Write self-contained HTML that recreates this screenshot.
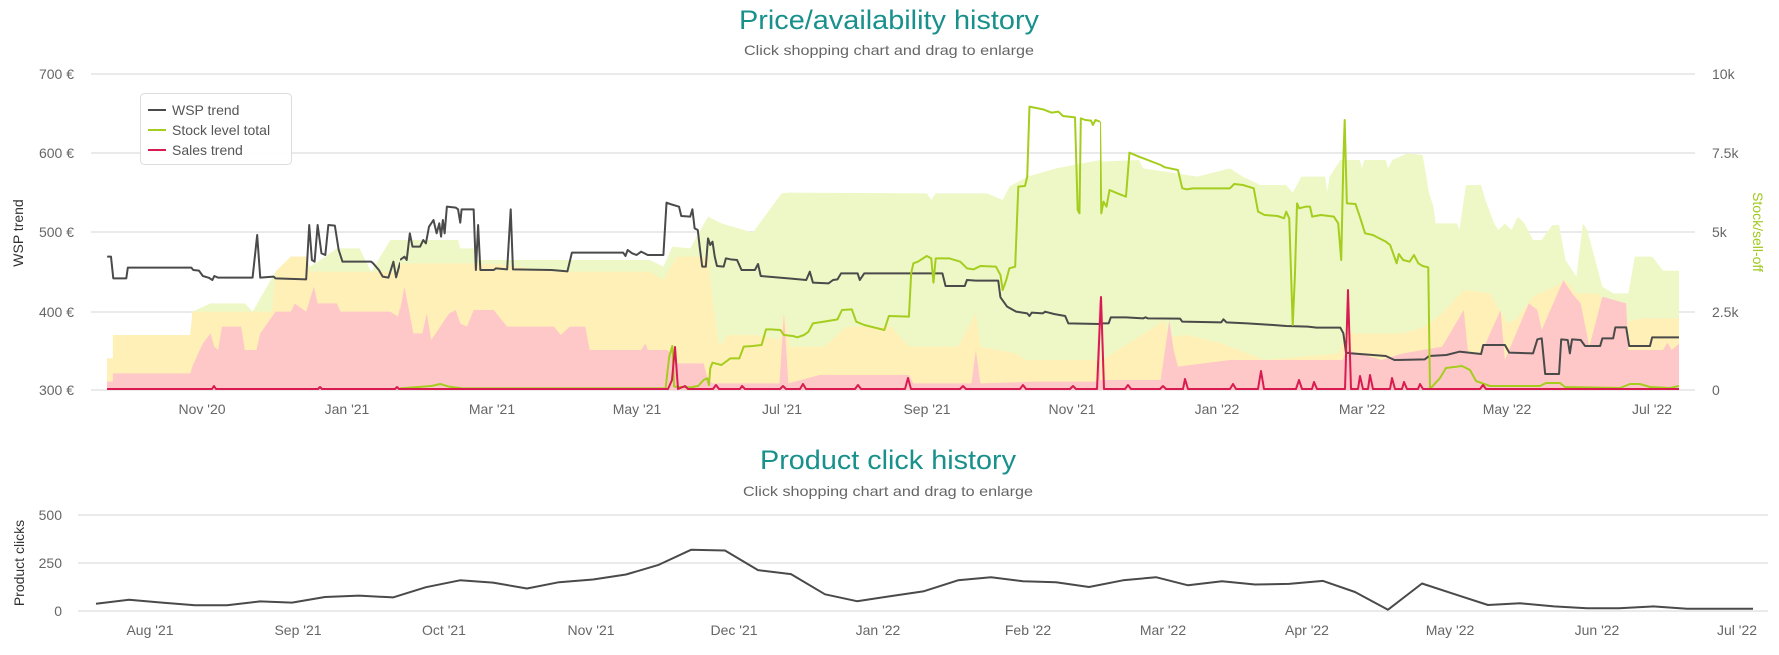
<!DOCTYPE html>
<html><head><meta charset="utf-8"><style>
html,body{margin:0;padding:0;background:#fff;}
svg{display:block;font-family:"Liberation Sans",sans-serif;}
</style></head><body>
<svg width="1779" height="655" viewBox="0 0 1779 655" xmlns="http://www.w3.org/2000/svg">
<defs>
<clipPath id="cA"><rect x="107" y="60" width="293" height="331"/></clipPath>
<clipPath id="cB"><rect x="400" y="60" width="700" height="331"/></clipPath>
<clipPath id="cC"><rect x="1100" y="60" width="579" height="331"/></clipPath>
<clipPath id="cD"><rect x="1430" y="60" width="249" height="331"/></clipPath>
</defs>
<rect width="1779" height="655" fill="#fff"/>
<text x="889" y="29" text-anchor="middle" font-size="27" fill="#18908c" textLength="300" lengthAdjust="spacingAndGlyphs">Price/availability history</text>
<text x="889" y="55" text-anchor="middle" font-size="14" fill="#666" textLength="290" lengthAdjust="spacingAndGlyphs">Click shopping chart and drag to enlarge</text>
<text x="888" y="469" text-anchor="middle" font-size="27" fill="#18908c" textLength="256" lengthAdjust="spacingAndGlyphs">Product click history</text>
<text x="888" y="496" text-anchor="middle" font-size="14" fill="#666" textLength="290" lengthAdjust="spacingAndGlyphs">Click shopping chart and drag to enlarge</text>

<g stroke="#e3e3e3" stroke-width="1.5">
<line x1="91" y1="74" x2="1695" y2="74"/><line x1="91" y1="153" x2="1695" y2="153"/>
<line x1="91" y1="232" x2="1695" y2="232"/><line x1="91" y1="312" x2="1695" y2="312"/>
<line x1="91" y1="390" x2="1695" y2="390"/>
</g>
<g font-size="14" fill="#666" text-anchor="end">
<text x="74" y="79">700 €</text><text x="74" y="158">600 €</text><text x="74" y="237">500 €</text><text x="74" y="317">400 €</text><text x="74" y="395">300 €</text>
</g>
<g font-size="14" fill="#666">
<text x="1712" y="79">10k</text><text x="1712" y="158">7.5k</text><text x="1712" y="237">5k</text><text x="1712" y="317">2.5k</text><text x="1712" y="395">0</text>
</g>
<text transform="translate(23,233) rotate(-90)" text-anchor="middle" font-size="14" fill="#333">WSP trend</text>
<text transform="translate(1753,232) rotate(90)" text-anchor="middle" font-size="14" fill="#a0c81e">Stock/sell-off</text>
<g font-size="14" fill="#666" text-anchor="middle">
<text x="202" y="414">Nov '20</text><text x="347" y="414">Jan '21</text><text x="492" y="414">Mar '21</text><text x="637" y="414">May '21</text><text x="782" y="414">Jul '21</text><text x="927" y="414">Sep '21</text><text x="1072" y="414">Nov '21</text><text x="1217" y="414">Jan '22</text><text x="1362" y="414">Mar '22</text><text x="1507" y="414">May '22</text><text x="1652" y="414">Jul '22</text>
</g>

<g clip-path="url(#cA)"><g transform="scale(0.3827,0.33333)">
<path fill="#eef8c6" d="M279,1170 L279,1075 L295,1075 L295,1005 L497,1005 L503,935 L550,910 L640,910 L660,935 L720,815 L760,770 L800,770 L810,800 L850,770 L880,745 L940,745 L950,770 L970,815 L1020,720 L1060,720 L1075,800 L1100,770 L1120,740 L1150,720 L1200,720 L1200,1170 Z"/>
<path fill="#fff0b8" d="M279,1170 L279,1075 L295,1075 L295,1005 L497,1005 L503,935 L710,935 L720,815 L760,770 L800,770 L810,815 L1040,815 L1060,720 L1070,800 L1100,770 L1150,720 L1200,720 L1200,1170 Z"/>
<path fill="#ffc8c8" d="M279,1170 L279,1145 L295,1145 L295,1120 L497,1120 L503,1098 L530,1030 L550,1000 L560,1040 L570,1050 L580,980 L630,980 L640,1050 L670,1050 L680,1000 L720,935 L760,935 L770,910 L800,935 L820,860 L830,910 L880,910 L890,935 L1020,935 L1040,950 L1060,840 L1075,1000 L1100,1000 L1110,960 L1120,1000 L1135,930 L1150,1020 L1160,1000 L1190,930 L1200,975 L1200,1170 Z"/>
<path fill="none" stroke="#4a4a4a" stroke-width="2" vector-effect="non-scaling-stroke" stroke-linejoin="round" d="M280,770 L290,770 L296,835 L330,835 L334,803 L500,803 L505,810 L520,812 L530,828 L545,833 L555,840 L560,828 L570,833 L660,833 L672,705 L680,833 L715,830 L720,835 L800,838 L808,675 L815,780 L822,785 L830,675 L840,760 L850,765 L858,675 L875,677 L885,750 L895,785 L970,785 L975,790 L990,810 L1000,830 L1015,833 L1028,785 L1035,832 L1045,790 L1060,768 L1065,785 L1072,695 L1080,740 L1100,740 L1110,695 L1118,725 L1130,670 L1140,660 L1145,700 L1155,660 L1160,715 L1165,622 L1190,625 L1198,630 L1205,665 L1210,628 L1240,628"/>
</g></g>

<g clip-path="url(#cB)"><g transform="translate(400,60) scale(0.44643,0.33333)">
<path fill="#eef8c6" d="M0,990 L0,540 L130,540 L135,565 L165,565 L175,600 L560,600 L590,620 L610,560 L650,565 L690,470 L720,490 L790,518 L855,400 L870,398 L1180,400 L1190,420 L1200,400 L1315,400 L1350,420 L1365,380 L1405,350 L1470,325 L1568,300 L1568,990 Z"/>
<path fill="#fff0b8" d="M0,990 L0,610 L165,610 L240,615 L340,635 L380,635 L560,635 L590,660 L620,590 L690,590 L700,720 L715,860 L735,825 L800,825 L850,840 L860,760 L875,860 L950,860 L1000,800 L1100,800 L1140,860 L1250,860 L1290,760 L1300,860 L1380,880 L1400,900 L1568,900 L1568,990 Z"/>
<path fill="#ffc8c8" d="M0,990 L0,750 L10,680 L20,750 L30,820 L50,820 L60,760 L70,840 L90,800 L110,760 L125,750 L135,790 L150,800 L165,750 L210,750 L240,800 L345,800 L360,825 L380,800 L415,800 L425,870 L540,870 L550,850 L555,870 L600,870 L620,910 L680,910 L690,960 L700,970 L850,970 L860,760 L870,970 L940,945 L1140,945 L1150,970 L1280,970 L1290,870 L1300,970 L1420,965 L1560,965 L1566,720 L1568,720 L1568,990 Z"/>
<path fill="none" stroke="#4a4a4a" stroke-width="2" vector-effect="non-scaling-stroke" stroke-linejoin="round" d="M0,600 L10,590 L15,600 L22,520 L28,560 L45,560 L52,540 L58,550 L65,500 L75,480 L82,520 L88,490 L92,530 L96,480 L100,520 L105,440 L125,443 L130,448 L135,488 L138,448 L165,448 L170,630 L175,495 L180,630 L210,630 L215,625 L240,628 L248,448 L253,628 L340,630 L375,634 L385,578 L500,578 L505,588 L510,570 L520,580 L530,585 L540,575 L555,585 L590,585 L597,428 L605,432 L625,440 L630,468 L650,470 L655,448 L660,505 L667,510 L672,568 L677,620 L685,620 L690,535 L695,555 L700,545 L705,590 L710,618 L725,620 L730,595 L740,598 L755,600 L765,630 L795,630 L802,612 L808,648 L870,655 L910,660 L918,635 L925,668 L960,670 L970,660 L980,658 L988,640 L1025,640 L1030,660 L1040,640 L1215,640 L1222,678 L1265,678 L1270,660 L1290,662 L1340,662 L1345,712 L1360,740 L1380,755 L1405,760 L1410,768 L1415,758 L1440,760 L1445,755 L1465,762 L1490,768 L1497,790 L1568,792"/>
<path fill="none" stroke="#a5cd1e" stroke-width="2" vector-effect="non-scaling-stroke" stroke-linejoin="round" d="M0,985 L70,978 L90,972 L110,980 L140,985 L595,985 L603,890 L610,858 L614,980 L650,982 L668,978 L680,960 L688,955 L692,975 L695,925 L700,908 L720,915 L730,905 L740,895 L760,895 L770,860 L790,858 L810,855 L820,808 L830,808 L852,810 L860,825 L880,828 L890,832 L905,825 L915,815 L925,790 L950,785 L980,778 L990,750 L1012,748 L1022,785 L1040,795 L1085,810 L1095,768 L1140,770 L1145,640 L1150,610 L1160,605 L1180,588 L1190,595 L1195,668 L1200,595 L1230,595 L1255,605 L1270,625 L1285,628 L1300,618 L1335,620 L1345,645 L1350,690 L1358,660 L1365,625 L1378,620 L1385,380 L1400,378 L1405,350 L1410,140 L1440,148 L1460,158 L1475,155 L1485,168 L1512,172 L1518,450 L1522,460 L1525,175 L1535,180 L1548,182 L1552,195 L1558,180 L1568,185"/>
</g></g>

<g clip-path="url(#cC)"><g transform="translate(1100,60) scale(0.43306,0.33333)">
<path fill="#eef8c6" d="M0,990 L0,305 L90,300 L100,325 L225,350 L300,325 L330,350 L370,375 L430,375 L445,398 L465,350 L520,350 L525,395 L530,350 L555,300 L600,300 L605,325 L610,300 L660,300 L665,325 L675,300 L710,280 L745,285 L760,400 L770,440 L775,490 L825,490 L830,510 L845,375 L880,375 L890,420 L910,490 L920,510 L935,490 L950,510 L965,470 L980,490 L1000,540 L1020,540 L1030,520 L1045,495 L1060,495 L1075,600 L1100,650 L1115,490 L1125,510 L1160,680 L1185,700 L1220,700 L1235,590 L1275,590 L1300,632 L1338,632 L1338,990 Z"/>
<path fill="#fff0b8" d="M0,990 L0,905 L150,780 L160,830 L200,825 L280,850 L380,900 L550,880 L570,820 L700,820 L750,800 L790,760 L840,690 L900,700 L940,790 L960,780 L1000,710 L1050,680 L1075,660 L1100,700 L1150,700 L1200,790 L1250,775 L1338,775 L1338,990 Z"/>
<path fill="#ffc8c8" d="M0,990 L0,960 L140,960 L150,870 L160,780 L170,870 L180,920 L300,900 L560,900 L570,870 L650,900 L700,880 L790,860 L840,750 L850,880 L880,880 L925,750 L935,900 L990,730 L1010,750 L1020,810 L1070,660 L1090,700 L1110,730 L1130,860 L1160,710 L1215,730 L1220,870 L1300,870 L1310,848 L1320,870 L1338,850 L1338,990 Z"/>
<path fill="none" stroke="#4a4a4a" stroke-width="2" vector-effect="non-scaling-stroke" stroke-linejoin="round" d="M0,790 L20,790 L25,772 L60,772 L100,775 L105,772 L110,775 L185,776 L190,785 L280,787 L285,778 L292,787 L340,790 L400,795 L430,798 L480,800 L500,803 L555,803 L562,820 L568,878 L580,880 L600,882 L660,888 L680,900 L750,898 L760,888 L800,885 L830,875 L880,882 L885,855 L935,855 L945,878 L1000,880 L1010,838 L1020,835 L1028,942 L1060,942 L1065,838 L1080,840 L1085,880 L1090,838 L1110,840 L1120,858 L1155,858 L1160,835 L1185,835 L1190,802 L1215,802 L1222,858 L1270,858 L1275,832 L1338,832"/>
<path fill="none" stroke="#a5cd1e" stroke-width="2" vector-effect="non-scaling-stroke" stroke-linejoin="round" d="M0,185 L3,460 L8,425 L15,440 L22,390 L40,400 L60,410 L68,278 L90,290 L140,315 L150,322 L180,330 L190,385 L200,388 L215,385 L300,385 L310,372 L330,375 L355,385 L365,455 L380,465 L410,468 L425,475 L430,455 L437,475 L445,795 L450,650 L455,430 L460,445 L475,440 L485,440 L490,470 L510,465 L540,470 L550,490 L557,600 L562,300 L565,180 L570,430 L590,432 L600,470 L612,520 L630,525 L660,545 L670,555 L685,610 L690,582 L700,600 L715,605 L725,585 L735,610 L745,618 L758,622 L762,990"/>
</g></g>
<g clip-path="url(#cD)">
<path fill="none" stroke="#a5cd1e" stroke-width="2" stroke-linejoin="round" d="M1430,389 L1440,378 L1446,368 L1462,366 L1470,370 L1476,381 L1490,386 L1540,386 L1546,383 L1560,383 L1565,387 L1620,388 L1630,384 L1640,384 L1650,387 L1670,388 L1679,386"/>
</g>
<path fill="none" stroke="#d81b50" stroke-width="2" stroke-linejoin="round" d="M107,389 L212,389 L214,386 L216,389 L318,389 L320,387 L322,389 L395,389 L397,387 L399,389 L668,389 L672,380 L675,347 L678,389 L685,386 L688,389 L713,389 L716,385 L719,389 L740,389 L742,386 L745,389 L780,389 L783,386 L786,389 L800,389 L803,384 L806,389 L855,389 L858,385 L861,389 L905,389 L908,378 L911,389 L960,389 L963,386 L966,389 L1020,389 L1023,385 L1026,389 L1070,389 L1073,386 L1076,389 L1097,389 L1101,297 L1104,389 L1125,389 L1128,385 L1131,389 L1160,389 L1163,386 L1166,389 L1183,389 L1185,379 L1188,389 L1230,389 L1233,384 L1236,389 L1258,389 L1261,371 L1264,389 L1296,389 L1299,380 L1302,389 L1312,389 L1314,382 L1317,389 L1345,389 L1348,290 L1351,389 L1358,389 L1360,376 L1363,389 L1368,389 L1370,375 L1373,389 L1390,389 L1392,378 L1395,389 L1402,389 L1404,382 L1407,389 L1418,389 L1420,384 L1423,389 L1480,389 L1483,385 L1486,389 L1679,389"/>

<rect x="140.5" y="93.5" width="151" height="71" rx="4" fill="#fff" fill-opacity="0.9" stroke="#ddd"/>
<g stroke-width="2"><line x1="148" y1="110" x2="166" y2="110" stroke="#4a4a4a"/><line x1="148" y1="130" x2="166" y2="130" stroke="#a5cd1e"/><line x1="148" y1="150" x2="166" y2="150" stroke="#d81b50"/></g>
<g font-size="14" fill="#555"><text x="172" y="115">WSP trend</text><text x="172" y="135">Stock level total</text><text x="172" y="155">Sales trend</text></g>

<g stroke="#e3e3e3" stroke-width="1.5">
<line x1="78" y1="515" x2="1768" y2="515"/><line x1="78" y1="563" x2="1768" y2="563"/><line x1="78" y1="611" x2="1768" y2="611"/>
</g>
<g font-size="14" fill="#666" text-anchor="end"><text x="62" y="520">500</text><text x="62" y="568">250</text><text x="62" y="616">0</text></g>
<text transform="translate(24,563) rotate(-90)" text-anchor="middle" font-size="14" fill="#333">Product clicks</text>
<g font-size="14" fill="#666" text-anchor="middle">
<text x="150" y="635">Aug '21</text><text x="298" y="635">Sep '21</text><text x="444" y="635">Oct '21</text><text x="591" y="635">Nov '21</text><text x="734" y="635">Dec '21</text><text x="878" y="635">Jan '22</text><text x="1028" y="635">Feb '22</text><text x="1163" y="635">Mar '22</text><text x="1307" y="635">Apr '22</text><text x="1450" y="635">May '22</text><text x="1597" y="635">Jun '22</text><text x="1737" y="635">Jul '22</text>
</g>
<polyline fill="none" stroke="#4a4a4a" stroke-width="2" stroke-linejoin="round" points="96,603.7 129,599.7 162,602.6 195,605.2 227,605.2 260,601.4 292,602.6 325,597 359,595.6 393,597.4 426,587.2 460,580.3 493,582.6 527,588.5 559,582.2 593,579.5 626,574.5 658,565.1 691,549.8 725,550.5 758,570.1 791,574.1 825,594.3 857,601.2 890,596.2 924,591.2 958,580.3 991,577.2 1023,581.2 1056,582.2 1089,587 1123,580.3 1156,577.2 1188,585.3 1222,581.2 1255,584.5 1289,583.9 1323,580.9 1355,592 1388,609.7 1422,583.5 1455,594.3 1488,605 1520,603.3 1554,606.4 1587,608.3 1619,608.3 1653,606.4 1687,608.7 1720,608.7 1753,608.7"/>
</svg>
</body></html>
